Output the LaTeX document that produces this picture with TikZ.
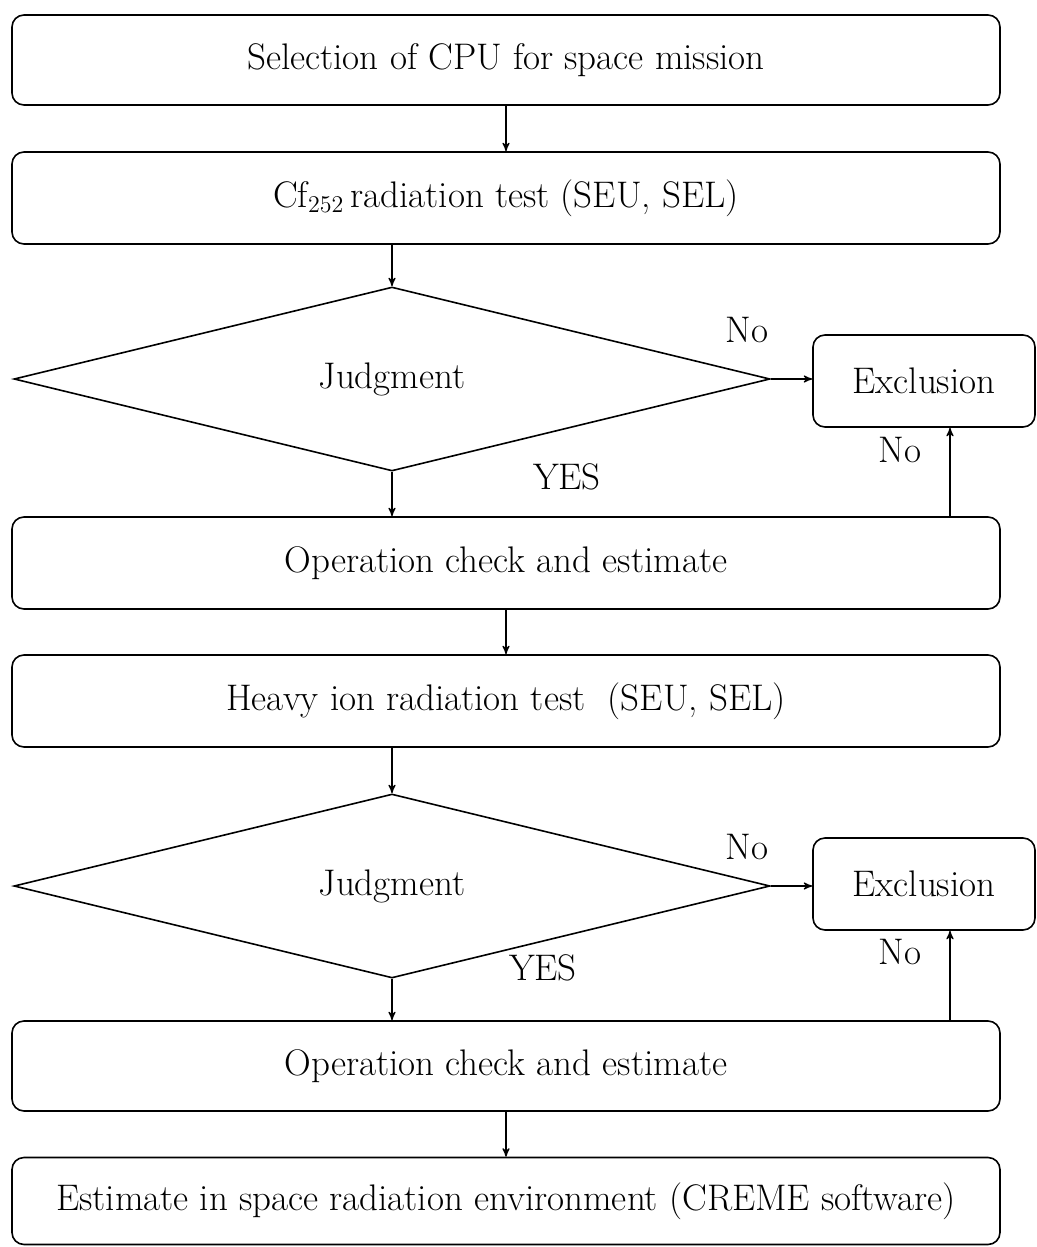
\documentclass[tikz,border=0pt]{standalone}
\usetikzlibrary{arrows,calc,shapes.geometric}
\begin{document}
\begin{tikzpicture}[x=0.5pt,y=-0.5pt,>=stealth',
  font=\fontsize{18.5}{22}\selectfont,
  main box/.style={draw,rounded corners=6pt,line width=0.8pt,minimum width=494pt,minimum height=45pt,inner sep=0pt},
  judge node/.style={draw,diamond,line width=0.8pt,minimum width=378pt,minimum height=92pt,inner sep=0pt},
  excl node/.style={draw,rounded corners=6pt,line width=0.8pt,minimum width=111pt,minimum height=46pt,inner sep=0pt},
  flow/.style={->,line width=0.6pt}]

\useasboundingbox (0,0) rectangle (1037,1247);

\node[main box] (sel) at (506,60) {Selection of CPU for space mission};
\node[main box,minimum height=46pt] (cf) at (506,198) {Cf$_{252}$\,radiation test (SEU, SEL)};
\node[judge node] (j1) at (392,379) {Judgment};
\node[excl node] (ex1) at (924,381) {Exclusion};
\node[main box,minimum height=46pt] (op1) at (506,563) {Operation check and estimate};
\node[main box,minimum height=46pt] (hi) at (506,701) {Heavy ion radiation test~~(SEU, SEL)};
\node[judge node] (j2) at (392,886) {Judgment};
\node[excl node] (ex2) at (924,884) {Exclusion};
\node[main box] (op2) at (506,1066) {Operation check and estimate};
\node[main box,minimum height=43.5pt] (est) at (506,1201) {Estimate in space radiation environment (CREME software)};

% labels
\node (no1) at (747,330) {No};
\node (no2) at (900,450) {No};
\node (yes1) at (567,477) {YES};
\node (no3) at (747,847) {No};
\node (no4) at (900,952) {No};
\node (yes2) at (543,968) {YES};

\coordinate (up1) at ($(ex1.south)+(26,0)$);
\coordinate (up2) at ($(ex2.south)+(26,0)$);

\draw[flow] (sel) -- (cf);
\draw[flow] (cf.south -| j1.north) -- (j1.north);
\draw[flow] (j1.east) -- (j1.east -| ex1.west);
\draw[flow] (j1.south) -- (j1.south |- op1.north);
\draw[flow] (op1.north -| up1) -- (up1);
\draw[flow] (op1) -- (hi);
\draw[flow] (hi.south -| j2.north) -- (j2.north);
\draw[flow] (j2.east) -- (j2.east -| ex2.west);
\draw[flow] (j2.south) -- (j2.south |- op2.north);
\draw[flow] (op2.north -| up2) -- (up2);
\draw[flow] (op2) -- (est);

\end{tikzpicture}
\end{document}
